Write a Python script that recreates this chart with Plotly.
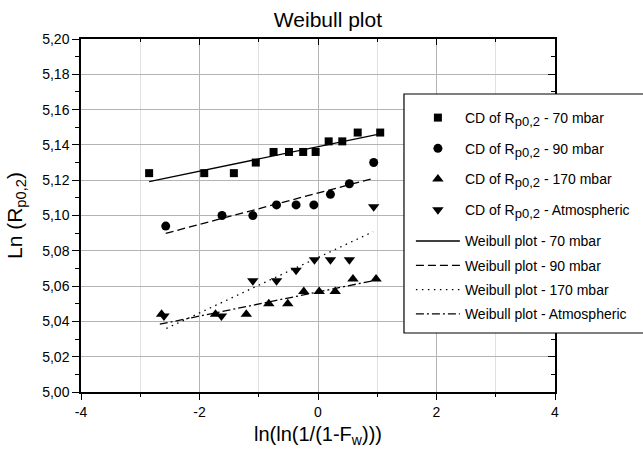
import plotly.graph_objects as go

# ---- data ----
x70 = [-2.85, -1.92, -1.42, -1.05, -0.75, -0.49, -0.25, -0.04, 0.18, 0.41, 0.67, 1.05]
y70 = [5.124, 5.124, 5.124, 5.130, 5.136, 5.136, 5.136, 5.136, 5.142, 5.142, 5.147, 5.147]

x90 = [-2.57, -1.62, -1.10, -0.70, -0.37, -0.07, 0.21, 0.53, 0.94]
y90 = [5.094, 5.100, 5.100, 5.106, 5.106, 5.106, 5.112, 5.118, 5.130]

x170 = [-2.64, -1.73, -1.21, -0.83, -0.51, -0.24, 0.02, 0.29, 0.59, 0.98]
y170 = [5.044, 5.044, 5.044, 5.050, 5.050, 5.057, 5.057, 5.057, 5.064, 5.064]

xatm = [-2.60, -1.63, -1.10, -0.70, -0.37, -0.06, 0.21, 0.53, 0.94]
yatm = [5.043, 5.043, 5.063, 5.063, 5.069, 5.075, 5.075, 5.075, 5.105]

fit70_x = [-2.85, 1.05]
fit70_y = [5.1192, 5.1463]
fit90_x = [-2.57, 0.94]
fit90_y = [5.0899, 5.1211]
fit170_x = [-2.56, 0.93]
fit170_y = [5.0360, 5.0908]
fitatm_x = [-2.67, 0.98]
fitatm_y = [5.0384, 5.0634]

x_tickvals = [-4, -2, 0, 2, 4]
x_ticktext = ["-4", "-2", "0", "2", "4"]

FONT = "Liberation Sans, Arial, sans-serif"
SUB = '<sub><span style="font-size:13px">p0,2</span></sub>'

fig = go.Figure()

def pts(x, y, sym, size, name, grp):
    fig.add_trace(go.Scatter(x=x, y=y, mode="markers", name=name,
                             legend="legend", legendgroup=grp,
                             marker=dict(symbol=sym, size=size, color="black")))

pts(x70, y70, "square", 8, "CD of R" + SUB + " - 70 mbar", "a1")
pts(x90, y90, "circle", 9, "CD of R" + SUB + " - 90 mbar", "a2")
pts(x170, y170, "triangle-up", 10, "CD of R" + SUB + " - 170 mbar", "a3")
pts(xatm, yatm, "triangle-down", 10, "CD of R" + SUB + " - Atmospheric", "a4")

def fit(x, y, dash, name, grp):
    fig.add_trace(go.Scatter(x=x, y=y, mode="lines", name=name,
                             legend="legend2", legendgroup=grp,
                             line=dict(color="black", width=1.3, dash=dash)))

fit(fit70_x, fit70_y, "solid", "Weibull plot - 70 mbar", "b1")
fit(fit90_x, fit90_y, "8px,4px", "Weibull plot - 90 mbar", "b2")
fit(fit170_x, fit170_y, "1.5px,4.5px", "Weibull plot - 170 mbar", "b3")
fit(fitatm_x, fitatm_y, "8px,3px,2px,3px", "Weibull plot - Atmospheric", "b4")

# dummy trace for mirrored (inward) axes
fig.add_trace(go.Scatter(x=[None], y=[None], xaxis="x2", yaxis="y2",
                         showlegend=False, hoverinfo="skip"))

xr = [-4, 4]
yr = [5.00, 5.20]

# legend frame (paper coords)
fig.add_shape(type="rect", xref="paper", yref="paper",
              x0=0.6814, x1=1.25, y0=0.1671, y1=0.8442,
              line=dict(color="black", width=1.2), fillcolor="white", layer="above")

legend_common = dict(xanchor="left", yanchor="top", bgcolor="rgba(0,0,0,0)",
                     borderwidth=0, font=dict(size=14, family=FONT, color="black"),
                     itemwidth=44)

fig.update_layout(
    width=643, height=454,
    margin=dict(l=81, r=88, t=39, b=62, autoexpand=False),
    paper_bgcolor="white", plot_bgcolor="white",
    separators=", ",
    font=dict(family=FONT, color="black", size=14),
    title=dict(text="Weibull plot", font=dict(size=21, family=FONT),
               x=0.521, xref="paper", xanchor="center",
               y=0.957, yref="container", yanchor="middle"),
    xaxis=dict(range=xr, tickmode="array", tickvals=x_tickvals, ticktext=x_ticktext,
               ticks="outside", ticklen=6, tickwidth=1.3, tickcolor="black",
               showline=True, linecolor="black", linewidth=1.5,
               showgrid=True, gridcolor="#b4b4b4", gridwidth=1, zeroline=False,
               automargin=False,
               minor=dict(dtick=1, tick0=-4, ticks="outside", ticklen=3.5,
                          tickcolor="black", tickwidth=1.3,
                          showgrid=True, gridcolor="#e0e0e0", gridwidth=1),
               tickfont=dict(size=14),
               title=dict(text="ln(ln(1/(1-F<sub>w</sub>)))", font=dict(size=20),
                          standoff=8)),
    yaxis=dict(range=yr, dtick=0.02, tick0=5.0, tickformat=".2f",
               ticks="outside", ticklen=7, tickwidth=1.3, tickcolor="black",
               showline=True, linecolor="black", linewidth=1.5,
               showgrid=True, gridcolor="#b4b4b4", gridwidth=1, zeroline=False,
               automargin=False,
               minor=dict(dtick=0.01, tick0=5.0, ticks="outside", ticklen=4,
                          tickcolor="black", tickwidth=1.3, showgrid=False),
               tickfont=dict(size=14),
               title=dict(text="Ln (R<sub>p0,2</sub>)", font=dict(size=21),
                          standoff=14)),
    xaxis2=dict(range=xr, overlaying="x", side="top", dtick=2, tick0=-4,
                ticks="inside", ticklen=6, tickwidth=1.3, tickcolor="black",
                showticklabels=False, showgrid=False, zeroline=False,
                showline=True, linecolor="black", linewidth=1.5, automargin=False,
                minor=dict(dtick=1, tick0=-4, ticks="inside", ticklen=3.5,
                           tickcolor="black", tickwidth=1.3, showgrid=False)),
    yaxis2=dict(range=yr, overlaying="y", side="right", dtick=0.02, tick0=5.0,
                ticks="inside", ticklen=7, tickwidth=1.3, tickcolor="black",
                showticklabels=False, showgrid=False, zeroline=False,
                showline=True, linecolor="black", linewidth=1.5, automargin=False,
                minor=dict(dtick=0.01, tick0=5.0, ticks="inside", ticklen=4,
                           tickcolor="black", tickwidth=1.3, showgrid=False)),
    legend=dict(x=0.696, y=0.8215, tracegroupgap=9.5, **legend_common),
    legend2=dict(x=0.696, y=0.472, tracegroupgap=3.1, **legend_common),
    showlegend=True,
)

fig.write_html("out.html",
               config={"displayModeBar": False},
               post_script="document.body.style.margin='0';"
                           "document.body.style.overflow='hidden';")
